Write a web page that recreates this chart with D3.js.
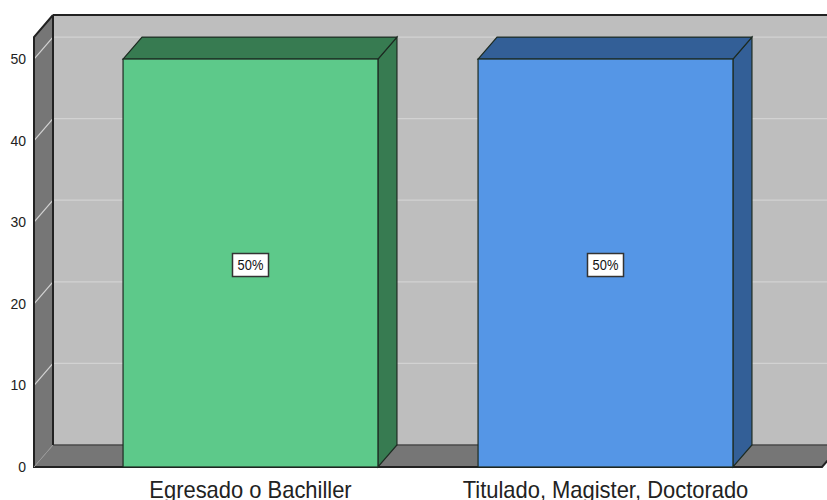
<!DOCTYPE html>
<html>
<head>
<meta charset="utf-8">
<script src="https://cdn.jsdelivr.net/npm/d3@7"></script>
<style>
  body { margin: 0; background: #fff; }
  svg { display: block; font-family: "Liberation Sans", Arial, sans-serif; }
</style>
</head>
<body>
<div class="render"></div>
<script>
// chart data
var categories = ["Egresado o Bachiller", "Titulado, Magister, Doctorado"];
var counts = [50, 50];
var pct_labels = ["50%", "50%"];
var tick_values = [0, 10, 20, 30, 40, 50];

var front_colours = ["#5dc98a", "#5596e6"];
var dark_colours = ["#377b51", "#335f97"];

var width = 827, height = 500;
// depth offset of the 3d box
var dx = 19, dy = 22;

var svg = d3.select(".render").append("svg")
    .attr("width", width)
    .attr("height", height);

var y = d3.scaleLinear().domain([0, 52.7]).range([467, 37]);
var x = d3.scaleBand().domain(categories)
    .range([73, 783])
    .paddingInner(0.282)
    .paddingOuter(0.141);

var left = 34, right = 822;
var y0 = y(0), ytop = y.range()[1];

function pts(list) {
    return list.map(function (p) { return p.join(","); }).join(" ");
}

// back wall
svg.append("rect")
    .attr("x", left + dx).attr("y", ytop - dy)
    .attr("width", width - left).attr("height", y0 - ytop)
    .attr("fill", "#bebebe");

// left wall
svg.append("polygon")
    .attr("points", pts([[left, y0], [left, ytop], [left + dx, ytop - dy], [left + dx, y0 - dy]]))
    .attr("fill", "#767676");

// floor
svg.append("polygon")
    .attr("points", pts([[left, y0], [right, y0], [right + dx, y0 - dy], [left + dx, y0 - dy]]))
    .attr("fill", "#767676");

// gridlines on walls
var grid = svg.append("g").attr("class", "grid");
tick_values.filter(function (t) { return t > 0; }).forEach(function (t) {
    grid.append("polyline")
        .attr("points", pts([[left, y(t)], [left + dx, y(t) - dy], [width, y(t) - dy]]))
        .attr("fill", "none")
        .attr("stroke", "#d2d2d2")
        .attr("stroke-width", 1.2);
});

// edges of the box
var edges = svg.append("g").attr("stroke", "#222").attr("fill", "none");
edges.append("line").attr("x1", left + dx).attr("y1", y0 - dy).attr("x2", width).attr("y2", y0 - dy)
    .attr("stroke", "#4a4a4a").attr("stroke-width", 1.5);
edges.append("line").attr("x1", left + dx).attr("y1", ytop - dy).attr("x2", left + dx).attr("y2", y0 - dy)
    .attr("stroke-width", 2);
edges.append("line").attr("x1", left + dx).attr("y1", ytop - dy).attr("x2", width).attr("y2", ytop - dy)
    .attr("stroke-width", 2);
edges.append("polyline")
    .attr("points", pts([[left + dx, ytop - dy], [left, ytop], [left, y0], [right, y0], [right + dx, y0 - dy]]))
    .attr("stroke-width", 2);
edges.append("line").attr("x1", left).attr("y1", y0).attr("x2", left + dx).attr("y2", y0 - dy)
    .attr("stroke", "#999").attr("stroke-width", 1);

// bars
var bars = svg.selectAll(".bar").data(counts).enter().append("g").attr("class", "bar");
bars.each(function (d, i) {
    var g = d3.select(this);
    var x0 = x(categories[i]), x1 = x0 + x.bandwidth();
    var yt = y(d);
    g.append("polygon")
        .attr("points", pts([[x1, yt], [x1 + dx, yt - dy], [x1 + dx, y0 - dy], [x1, y0]]))
        .attr("fill", dark_colours[i]).attr("stroke", "#1d2b22").attr("stroke-width", 1.2);
    g.append("polygon")
        .attr("points", pts([[x0, yt], [x0 + dx, yt - dy], [x1 + dx, yt - dy], [x1, yt]]))
        .attr("fill", dark_colours[i]).attr("stroke", "#1d2b22").attr("stroke-width", 1.2);
    g.append("rect")
        .attr("x", x0).attr("y", yt)
        .attr("width", x1 - x0).attr("height", y0 - yt)
        .attr("fill", front_colours[i]).attr("stroke", "#1d2b22").attr("stroke-width", 1.2);

    // percentage label box
    var cx = x0 + x.bandwidth() / 2, cy = y(d / 2) + 2;
    g.append("rect")
        .attr("x", cx - 18).attr("y", cy - 11.5)
        .attr("width", 36).attr("height", 23)
        .attr("fill", "#fff").attr("stroke", "#333").attr("stroke-width", 1.5);
    g.append("text")
        .attr("transform", "translate(" + cx + "," + (cy + 5) + ") scale(0.92,1)")
        .attr("text-anchor", "middle")
        .attr("font-size", 14)
        .attr("fill", "#111")
        .text(pct_labels[i]);
});

// y axis labels
svg.append("g").selectAll("text").data(tick_values).enter().append("text")
    .attr("x", 26).attr("y", function (d) { return y(d) + 5; })
    .attr("text-anchor", "end")
    .attr("font-size", 14)
    .attr("fill", "#222")
    .text(function (d) { return d; });

// category labels (narrow rendering like the original)
svg.append("g").selectAll("text").data(categories).enter().append("text")
    .attr("transform", function (d) {
        return "translate(" + (x(d) + x.bandwidth() / 2) + ",498) scale(0.914,1)";
    })
    .attr("text-anchor", "middle")
    .attr("font-size", 24)
    .attr("fill", "#222")
    .text(function (d) { return d; });
</script>
</body>
</html>
